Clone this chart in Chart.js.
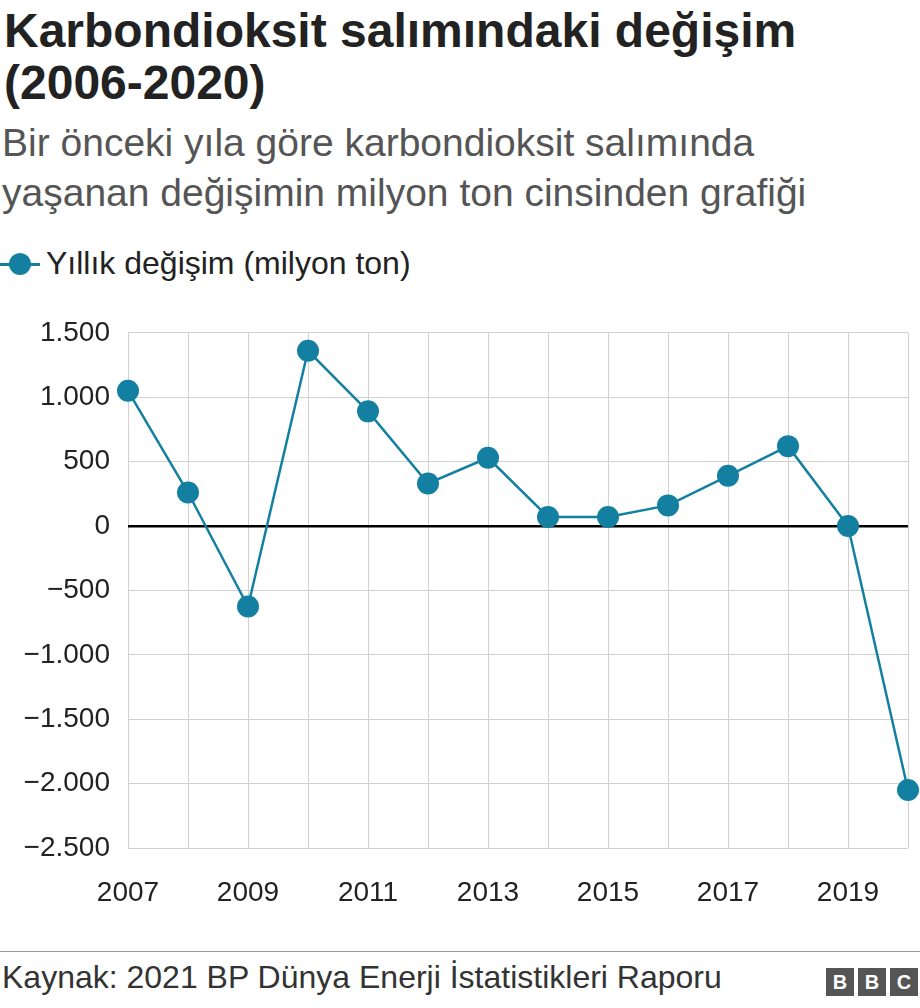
<!DOCTYPE html>
<html>
<head>
<meta charset="utf-8">
<script src="https://cdn.jsdelivr.net/npm/chart.js@4"></script>
<style>
  body { margin: 0; width: 920px; height: 1008px; position: relative; font-family: "Liberation Sans", Arial, sans-serif; background: #fff; overflow: hidden; }
  .title { position: absolute; left: 4px; top: 5px; font-size: 48px; font-weight: bold; line-height: 52px; color: #222; }
  .sub { position: absolute; left: 2px; top: 118px; font-size: 39px; line-height: 50px; color: #555; }
  .legend { position: absolute; left: 0; top: 245px; font-size: 32px; color: #222; display: flex; align-items: center; }
  .legend .mark { position: relative; width: 40px; height: 34px; margin-right: 6px; }
  .legend .mark:before { content: ""; position: absolute; left: 0; top: 16px; width: 40px; height: 3px; background: #1380A1; }
  .legend .mark:after { content: ""; position: absolute; left: 9px; top: 6px; width: 22px; height: 22px; border-radius: 50%; background: #1380A1; }
  #wrap { position: absolute; left: 0; top: 298px; width: 936px; height: 617px; }
  .foot { position: absolute; left: 0; right: 0; top: 951px; border-top: 1px solid #999; }
  .src { position: absolute; left: 2px; top: 959px; font-size: 32px; color: #333; }
  .bbc { position: absolute; right: 2px; top: 968px; display: flex; gap: 4px; }
  .bbc span { width: 28px; height: 28px; background: #555; color: #fff; font-weight: bold; font-size: 20px; text-align: center; line-height: 28px; }
</style>
</head>
<body>
<div class="title">Karbondioksit salımındaki değişim<br>(2006-2020)</div>
<div class="sub">Bir önceki yıla göre karbondioksit salımında<br>yaşanan değişimin milyon ton cinsinden grafiği</div>
<div class="legend"><div class="mark"></div>Yıllık değişim (milyon ton)</div>
<div id="wrap"><canvas id="c"></canvas></div>
<div class="foot"></div>
<div class="src">Kaynak: 2021 BP Dünya Enerji İstatistikleri Raporu</div>
<div class="bbc"><span>B</span><span>B</span><span>C</span></div>
<script>
const years = [2007, 2008, 2009, 2010, 2011, 2012, 2013, 2014, 2015, 2016, 2017, 2018, 2019, 2020];
const changes = [1050, 260, -625, 1360, 890, 330, 530, 70, 70, 160, 390, 620, 0, -2050];
const yTicks = [1500, 1000, 500, 0, -500, -1000, -1500, -2000, -2500];

const fmt = v => (v < 0 ? '\u2212' : '') + Math.abs(v).toLocaleString('de-DE');
const tickFont = { size: 28, family: '"Liberation Sans", Arial' };

new Chart(document.getElementById('c'), {
  type: 'line',
  data: {
    datasets: [{
      data: years.map((y, i) => ({ x: y, y: changes[i] })),
      borderColor: '#1380A1',
      backgroundColor: '#1380A1',
      borderWidth: 2.5,
      pointRadius: 11,
      pointHoverRadius: 11,
      pointBorderWidth: 0,
      clip: false
    }]
  },
  options: {
    responsive: true,
    maintainAspectRatio: false,
    animation: false,
    layout: { padding: 0, autoPadding: false },
    plugins: { legend: { display: false }, tooltip: { enabled: false } },
    scales: {
      x: {
        type: 'linear', min: 2007, max: 2020,
        afterFit: s => { s.height = 67; },
        afterBuildTicks: s => { s.ticks = years.map(v => ({ value: v })); },
        grid: { color: '#d0d0d0', drawTicks: false },
        border: { display: false },
        ticks: {
          color: '#222', font: tickFont, padding: 28,
          autoSkip: false, maxRotation: 0,
          callback: v => (v % 2 === 1 ? String(v) : '')
        }
      },
      y: {
        min: -2500, max: 1500,
        afterFit: s => { s.width = 128; },
        afterBuildTicks: s => { s.ticks = yTicks.map(v => ({ value: v })); },
        grid: {
          drawTicks: false,
          color: c => (c.tick && c.tick.value === 0 ? '#000' : '#d0d0d0'),
          lineWidth: c => (c.tick && c.tick.value === 0 ? 2.5 : 1)
        },
        border: { display: false },
        ticks: { color: '#222', font: tickFont, padding: 18, callback: v => fmt(v) }
      }
    }
  }
});
</script>
</body>
</html>
